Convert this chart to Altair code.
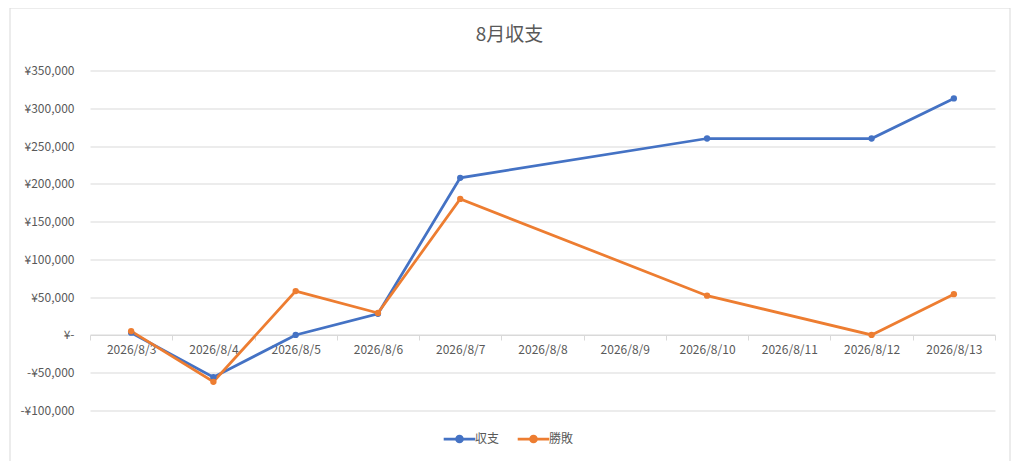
import altair as alt
import pandas as pd

categories = ["2026/8/3", "2026/8/4", "2026/8/5", "2026/8/6", "2026/8/7", "2026/8/8",
              "2026/8/9", "2026/8/10", "2026/8/11", "2026/8/12", "2026/8/13"]
series_names = ["収支", "勝敗"]
shushi = [3000, -56000, 0, 28000, 208000, None, None, 260000, None, 260000, 313000]
shohai = [5000, -62000, 58000, 29000, 180000, None, None, 52000, None, 0, 54000]
colors = ["#4472C4", "#ED7D31"]
y_ticks = [-100000, -50000, 0, 50000, 100000, 150000, 200000, 250000, 300000, 350000]
title_text = "8月収支"

rows = []
for name, vals in zip(series_names, [shushi, shohai]):
    for i, (c, v) in enumerate(zip(categories, vals)):
        if v is not None:
            rows.append({"date": c, "idx": i, "series": name, "value": v})
df = pd.DataFrame(rows)

FONT = "Noto Sans CJK JP"
GRAY = "#595959"

x_enc = alt.X("date:N", sort=categories,
              scale=alt.Scale(domain=categories, type="band", paddingInner=0, paddingOuter=0),
              axis=alt.Axis(title=None, labelAngle=0, offset=-75.5, tickBand="extent",
                            domainColor="#d9d9d9", tickColor="#d9d9d9", tickSize=5,
                            labelColor=GRAY, labelFontSize=12, labelFont=FONT,
                            labelPadding=4, grid=False, labelOverlap=False))
y_enc = alt.Y("value:Q",
              scale=alt.Scale(domain=[-100000, 350000], nice=False, zero=False),
              axis=alt.Axis(title=None, values=y_ticks, tickCount=10,
                            labelExpr="datum.value == 0 ? '¥-\u00a0\u00a0\u00a0' : (datum.value < 0 ? '-¥' + format(abs(datum.value), ',') : '¥' + format(datum.value, ','))",
                            domain=False, ticks=False, labelPadding=16, labelOverlap=False,
                            labelColor=GRAY, labelFontSize=12, labelFont=FONT,
                            gridColor="#d9d9d9", gridWidth=1))
color_scale = alt.Scale(domain=series_names, range=colors)
color_enc = alt.Color("series:N", sort=series_names, scale=color_scale,
                      legend=alt.Legend(title=None, orient="none", direction="horizontal",
                                        legendX=358, legendY=357,
                                        symbolType="M-1.6,0H1.6M-0.3,0A0.3,0.3 0 1,1 0.3,0A0.3,0.3 0 1,1 -0.3,0Z",
                                        symbolSize=390, symbolStrokeWidth=2.75,
                                        labelFont=FONT, labelFontSize=12, labelColor=GRAY,
                                        labelOffset=4, columnPadding=12))

border = alt.Chart(pd.DataFrame({"a": [0]})).mark_rect(
    fill=None, fillOpacity=0, stroke="#d9d9d9", strokeWidth=1, clip=False
).encode(x=alt.value(-80), x2=alt.value(920), y=alt.value(-62.5), y2=alt.value(391.5))

title = alt.Chart(pd.DataFrame({"t": [title_text]})).mark_text(
    font=FONT, fontSize=19, color=GRAY, align="center", baseline="middle", clip=False
).encode(text="t:N", x=alt.value(419.5), y=alt.value(-35.5))

lines = alt.Chart(df).mark_line(strokeWidth=2.75).encode(
    x=x_enc, y=y_enc, color=color_enc, order="idx:Q"
)
points = alt.Chart(df).mark_point(filled=True, size=40, opacity=1).encode(
    x=x_enc, y=y_enc, color=color_enc
)

chart = alt.layer(border, title, lines, points).properties(
    width=905, height=340,
    autosize=alt.AutoSizeParams(type="none"),
    padding={"left": 82, "top": 62.5, "right": 20, "bottom": 50},
).configure_view(stroke=None)

chart.save("out.html", embed_options={"renderer": "svg", "actions": False})
